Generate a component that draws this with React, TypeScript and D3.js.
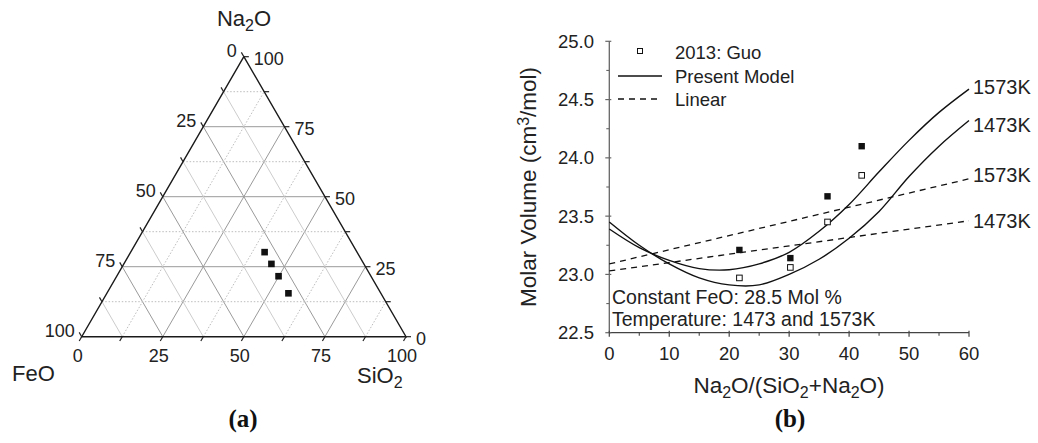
import React from "react";
import * as d3 from "d3";

const W = 1038;
const H = 443;
const SANS = "'Liberation Sans', Arial, Helvetica, sans-serif";
const SERIF = "'Liberation Serif', 'Times New Roman', serif";

// (a) ternary diagram, values in mol %
const ternMajor = [0, 25, 50, 75, 100];
const ternMinor = [12.5, 37.5, 62.5, 87.5];
const ternNa2O = [30.2, 26.0, 21.6, 15.5];
const ternFeO = 28.5;

// (b) molar volume vs Na2O/(SiO2+Na2O)
const xTicks = [0, 10, 20, 30, 40, 50, 60];
const xMinor = [5, 15, 25, 35, 45, 55];
const yTicks = [22.5, 23.0, 23.5, 24.0, 24.5, 25.0];
const yMinor = [22.75, 23.25, 23.75, 24.25, 24.75];
const ratio = [21.7, 30.2, 36.4, 42.1];
const volFilled = [23.21, 23.14, 23.67, 24.1];
const volGuo = [22.97, 23.06, 23.45, 23.85];
const modelX = [0, 5, 10, 15, 20, 25, 30, 35, 40, 45, 50, 55, 60];
const model1473 = [23.45, 23.25, 23.09, 22.97, 22.91, 22.91, 23.0, 23.13, 23.31, 23.54, 23.84, 24.1, 24.32];
const model1573 = [23.39, 23.23, 23.12, 23.05, 23.04, 23.09, 23.19, 23.37, 23.6, 23.88, 24.15, 24.39, 24.59];
const linearX = [0, 60];
const linear1573 = [23.09, 23.82];
const linear1473 = [23.03, 23.46];
const endLabels = ["1573K", "1473K", "1573K", "1473K"];
const endLabelVal = [24.61, 24.28, 23.85, 23.46];

// ternary geometry
const tx0 = 81.7;
const side = d3.scaleLinear().domain([0, 100]).range([0, 324.3]);
const ty = d3.scaleLinear().domain([0, 100]).range([336.7, 56.7]);
const tp = (na: number, si: number): [number, number] => [tx0 + side(si + na / 2), ty(na)];

function Ternary() {
  const gridLines: JSX.Element[] = [];
  const all = [...ternMajor.slice(1, 4), ...ternMinor];
  all.forEach((v, i) => {
    const major = ternMajor.includes(v);
    const a1 = tp(v, 0), a2 = tp(v, 100 - v); // constant Na2O
    const b1 = tp(0, v), b2 = tp(100 - v, v); // constant SiO2
    const c1 = tp(0, 100 - v), c2 = tp(100 - v, 0); // constant FeO
    const majorStyle = { stroke: "#9a9a9a", strokeWidth: 1 };
    const dotStyle = { stroke: "#bdbdbd", strokeWidth: 1, strokeDasharray: "1.5,1.8" };
    const lightStyle = { stroke: "#cccccc", strokeWidth: 1 };
    gridLines.push(<line key={`a${i}`} x1={a1[0]} y1={a1[1]} x2={a2[0]} y2={a2[1]} {...(major ? majorStyle : dotStyle)} />);
    gridLines.push(<line key={`b${i}`} x1={b1[0]} y1={b1[1]} x2={b2[0]} y2={b2[1]} {...(major ? majorStyle : dotStyle)} />);
    gridLines.push(<line key={`c${i}`} x1={c1[0]} y1={c1[1]} x2={c2[0]} y2={c2[1]} {...(major ? majorStyle : lightStyle)} />);
  });

  const tickVals = [...ternMajor, ...ternMinor];
  const c60 = Math.cos(Math.PI / 3) * 5;
  const s60 = Math.sin(Math.PI / 3) * 5;
  const ticks: JSX.Element[] = [];
  tickVals.forEach((v, i) => {
    const b = tp(0, v);
    ticks.push(<line key={`tb${i}`} x1={b[0]} y1={b[1]} x2={b[0] - c60} y2={b[1] + s60} stroke="#222" strokeWidth={1.2} />);
    const r = tp(v, 100 - v);
    ticks.push(<line key={`tr${i}`} x1={r[0]} y1={r[1]} x2={r[0] + 5} y2={r[1]} stroke="#222" strokeWidth={1.2} />);
    const l = tp(100 - v, 0);
    ticks.push(<line key={`tl${i}`} x1={l[0]} y1={l[1]} x2={l[0] - c60} y2={l[1] - s60} stroke="#222" strokeWidth={1.2} />);
  });

  const A = tp(100, 0), L = tp(0, 0), R = tp(0, 100);

  return (
    <g fontFamily={SANS}>
      {gridLines}
      <path d={`M${A[0]},${A[1]}L${L[0]},${L[1]}L${R[0]},${R[1]}Z`} fill="none" stroke="#1a1a1a" strokeWidth={1.4} />
      {ticks}
      {ternMajor.map((v) => {
        const b = tp(0, v);
        const r = tp(v, 100 - v);
        const l = tp(100 - v, 0);
        return (
          <g key={`lab${v}`} fontSize={18} fill="#222">
            <text x={b[0] - 4} y={361.5} textAnchor="middle">{v}</text>
            <text x={r[0] + 10} y={r[1] + 8.4} textAnchor="start">{v}</text>
            <text x={l[0] - 7} y={l[1] + 0.5} textAnchor="end">{v}</text>
          </g>
        );
      })}
      {ternNa2O.map((na, i) => {
        const [px, py] = tp(na, 100 - ternFeO - na);
        return <rect key={`tp${i}`} x={px - 3.3} y={py - 3.3} width={6.6} height={6.6} fill="#111" />;
      })}
      <text x={244} y={26} fontSize={22} textAnchor="middle" fill="#222">
        Na<tspan dy={5} fontSize={16}>2</tspan><tspan dy={-5}>O</tspan>
      </text>
      <text x={12} y={381} fontSize={22} fill="#222">FeO</text>
      <text x={357} y={383} fontSize={22} fill="#222">
        SiO<tspan dy={5} fontSize={16}>2</tspan>
      </text>
    </g>
  );
}

function MolarChart() {
  const x = d3.scaleLinear().domain([0, 60]).range([609.3, 969]);
  const y = d3.scaleLinear().domain([22.5, 25]).range([332.7, 41.3]);
  const curve = d3
    .line<number>()
    .x((_, i) => x(modelX[i]))
    .y((d) => y(d))
    .curve(d3.curveCatmullRom.alpha(0.5));
  const straight = d3
    .line<number>()
    .x((_, i) => x(linearX[i]))
    .y((d) => y(d));
  const axisColor = "#666";

  return (
    <g fontFamily={SANS} fill="#222">
      {/* axes */}
      <line x1={x(0)} y1={y(22.5)} x2={x(0)} y2={y(25)} stroke={axisColor} strokeWidth={1.3} />
      <line x1={x(0)} y1={y(22.5)} x2={x(60)} y2={y(22.5)} stroke="#444" strokeWidth={1.3} />
      {yTicks.map((t) => (
        <g key={`y${t}`}>
          <line x1={x(0) - 4} x2={x(0) + 2} y1={y(t)} y2={y(t)} stroke={axisColor} strokeWidth={1.2} />
          <text x={594} y={y(t) + 6.6} fontSize={18.5} textAnchor="end">{t.toFixed(1)}</text>
        </g>
      ))}
      {yMinor.map((t) => (
        <line key={`ym${t}`} x1={x(0) - 3} x2={x(0)} y1={y(t)} y2={y(t)} stroke={axisColor} strokeWidth={1.1} />
      ))}
      {xTicks.map((t) => (
        <g key={`x${t}`}>
          <line x1={x(t)} x2={x(t)} y1={y(22.5) - 2} y2={y(22.5) + 4} stroke="#444" strokeWidth={1.2} />
          <text x={x(t)} y={359.5} fontSize={18.5} textAnchor="middle">{t}</text>
        </g>
      ))}
      {xMinor.map((t) => (
        <line key={`xm${t}`} x1={x(t)} x2={x(t)} y1={y(22.5)} y2={y(22.5) + 3} stroke="#444" strokeWidth={1.1} />
      ))}

      {/* linear lines */}
      <path d={straight(linear1573) || ""} fill="none" stroke="#111" strokeWidth={1.3} strokeDasharray="6,5" />
      <path d={straight(linear1473) || ""} fill="none" stroke="#111" strokeWidth={1.3} strokeDasharray="6,5" />
      {/* model curves */}
      <path d={curve(model1573) || ""} fill="none" stroke="#111" strokeWidth={1.4} />
      <path d={curve(model1473) || ""} fill="none" stroke="#111" strokeWidth={1.4} />

      {/* data */}
      {ratio.map((r, i) => (
        <rect key={`f${i}`} x={x(r) - 3.2} y={y(volFilled[i]) - 3.2} width={6.4} height={6.4} fill="#111" />
      ))}
      {ratio.map((r, i) => (
        <rect key={`o${i}`} x={x(r) - 2.8} y={y(volGuo[i]) - 2.8} width={5.6} height={5.6} fill="#fff" stroke="#111" strokeWidth={1} />
      ))}

      {/* end labels */}
      {endLabels.map((lab, i) => (
        <text key={`el${i}`} x={973} y={y(endLabelVal[i]) + 7} fontSize={20}>{lab}</text>
      ))}

      {/* legend */}
      <rect x={637.5} y={48.5} width={5} height={5} fill="#fff" stroke="#111" strokeWidth={1} />
      <text x={675} y={58.5} fontSize={18.5}>2013: Guo</text>
      <line x1={618} x2={662} y1={76} y2={76} stroke="#111" strokeWidth={1.4} />
      <text x={675} y={82.5} fontSize={18.5}>Present Model</text>
      <line x1={618} x2={662} y1={99} y2={99} stroke="#111" strokeWidth={1.3} strokeDasharray="6,5" />
      <text x={675} y={105.5} fontSize={18.5}>Linear</text>

      {/* notes */}
      <text x={612} y={303.5} fontSize={19.5}>Constant FeO: 28.5 Mol %</text>
      <text x={612} y={326} fontSize={19.5}>Temperature: 1473 and 1573K</text>

      {/* axis titles */}
      <text x={789} y={393} fontSize={22.5} textAnchor="middle">
        Na<tspan dy={5} fontSize={16}>2</tspan><tspan dy={-5}>O/(SiO</tspan><tspan dy={5} fontSize={16}>2</tspan><tspan dy={-5}>+Na</tspan><tspan dy={5} fontSize={16}>2</tspan><tspan dy={-5}>O)</tspan>
      </text>
      <text transform="translate(536,187) rotate(-90)" fontSize={22.5} textAnchor="middle">
        Molar Volume (cm<tspan dy={-7} fontSize={16}>3</tspan><tspan dy={7}>/mol)</tspan>
      </text>
    </g>
  );
}

export default function App() {
  return (
    <svg width={W} height={H} viewBox={`0 0 ${W} ${H}`} style={{ position: "absolute", left: 0, top: 0, background: "#fff" }}>
      <rect width={W} height={H} fill="#fff" />
      <Ternary />
      <MolarChart />
      <text x={243} y={427} fontFamily={SERIF} fontWeight="bold" fontSize={25} textAnchor="middle" fill="#111">(a)</text>
      <text x={790} y={427} fontFamily={SERIF} fontWeight="bold" fontSize={25} textAnchor="middle" fill="#111">(b)</text>
    </svg>
  );
}
